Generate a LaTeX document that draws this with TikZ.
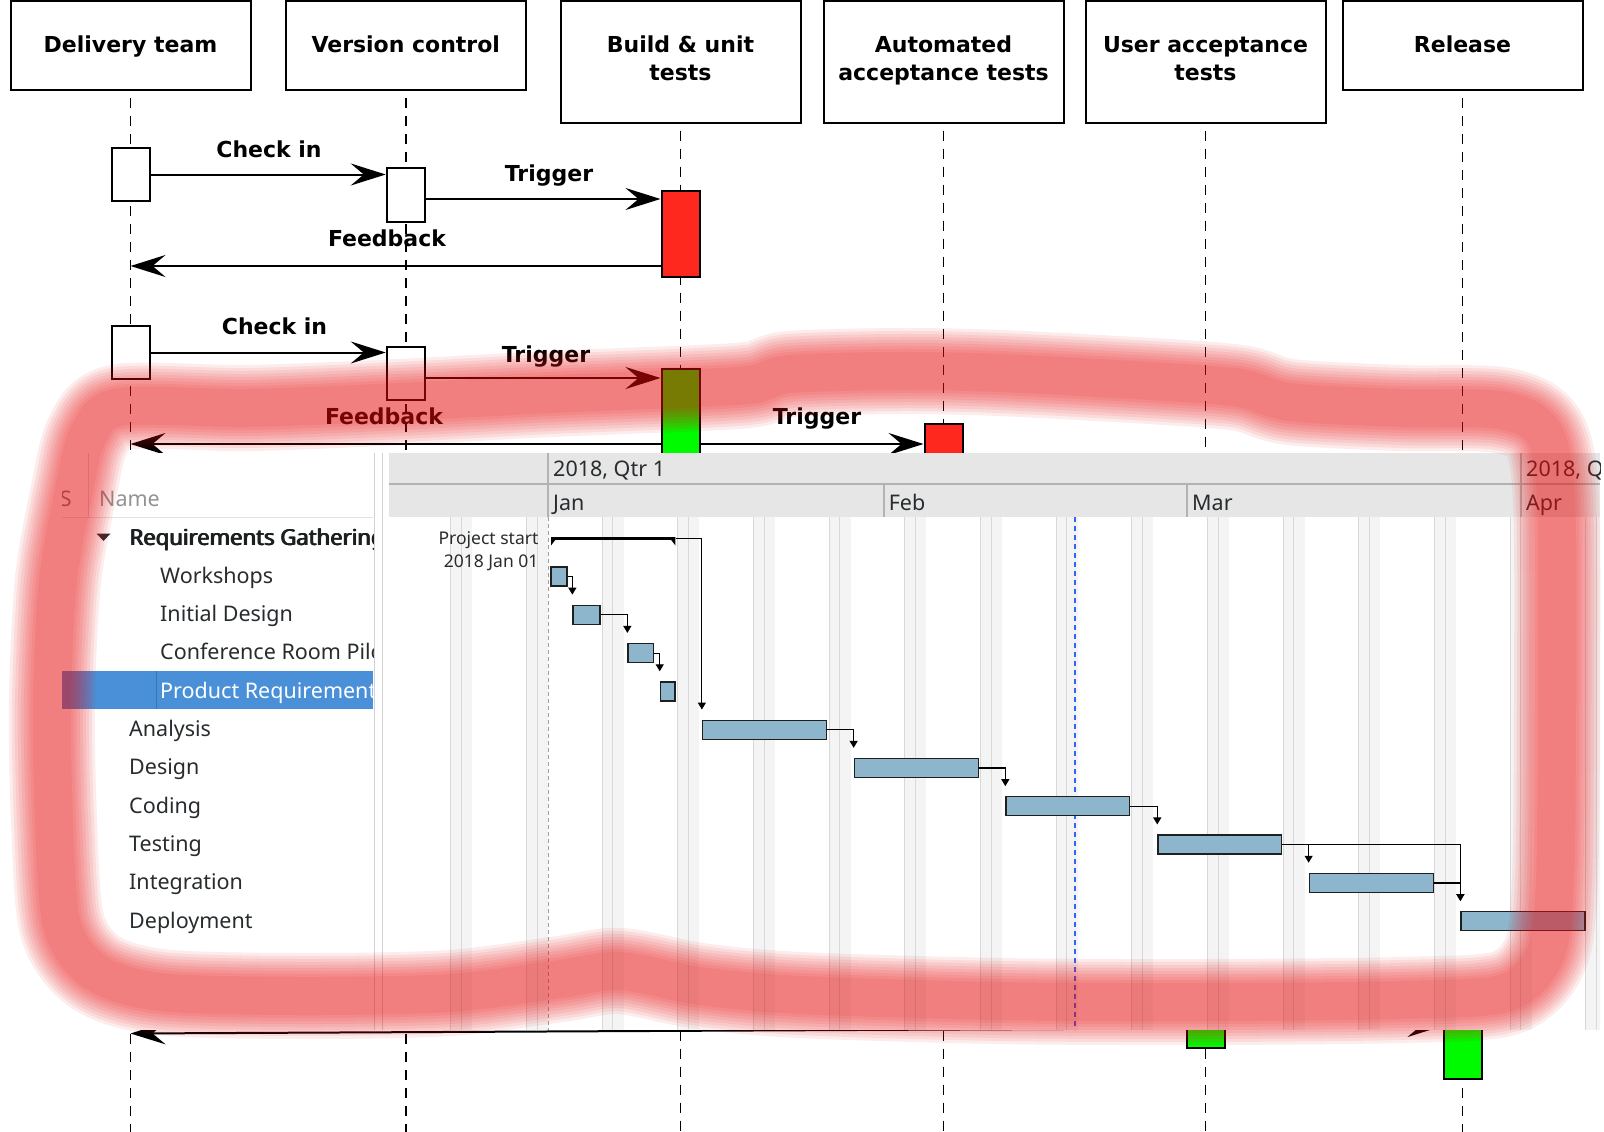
\documentclass[tikz,border=0pt]{standalone}
\usepackage{fontspec}
\newfontfamily\seqfont{DejaVu Sans}
\newfontfamily\gfont{Noto Sans}
\newcommand\heavytext[1]{\rlap{#1}\kern0.6pt\rlap{#1}\kern0.6pt#1}
\usetikzlibrary{arrows.meta,calc}
\definecolor{boxred}{RGB}{255,40,30}
\definecolor{boxgreen}{RGB}{0,250,0}
\definecolor{barfill}{RGB}{141,181,204}
\definecolor{hdrgrey}{RGB}{230,230,230}
\definecolor{hdrline}{RGB}{178,178,178}
\definecolor{wkfill}{RGB}{244,244,244}
\definecolor{wkline}{RGB}{216,216,216}
\definecolor{selblue}{RGB}{74,144,217}
\definecolor{gtext}{RGB}{40,44,46}
\definecolor{bandred}{RGB}{235,15,15}
\definecolor{todayblue}{RGB}{50,100,245}
\begin{document}
\begin{tikzpicture}[x=1pt,y=-1pt,
  hbox/.style={draw, line width=2pt, minimum width=240pt, inner sep=0pt},
  htext/.style={font=\seqfont\bfseries\fontsize{22}{26}\selectfont, anchor=base, inner sep=0pt},
  life/.style={line width=1.6pt, dash pattern=on 10pt off 8pt},
  act/.style={draw, line width=2pt, minimum width=38pt, inner sep=0pt, fill=white},
  msg/.style={line width=2pt, -{Stealth[length=35pt,width=22pt,inset=13pt]}},
  lbl/.style={font=\seqfont\bfseries\fontsize{22}{26}\selectfont, anchor=base, inner sep=0pt},
  gt/.style={font=\gfont\fontsize{21.5}{26}\selectfont, text=gtext, anchor=base west, inner sep=0pt},
  gtb/.style={font=\gfont\fontsize{22}{26}\selectfont, text=gtext!70!black, anchor=base west, inner sep=0pt},
  gsmall/.style={font=\gfont\fontsize{17.5}{20}\selectfont, text=gtext, anchor=base east, inner sep=0pt},
  bar/.style={draw=black!88, line width=1.3pt, fill=barfill, minimum height=19pt, inner sep=0pt},
  dep/.style={line width=1.2pt, -{Triangle[length=7pt,width=8pt]}},
  band/.style={bandred, line join=round, line cap=round}
]
\fill[white] (0,0) rectangle (1604,1132);
\useasboundingbox (0,0) rectangle (1604,1132);

% ---------- header boxes ----------
\node[hbox, minimum height=88.5pt] (dt) at (130.5,45.75) {};
\node[hbox, minimum height=88.5pt] (vc) at (405.75,45.75) {};
\node[hbox, minimum height=121pt] (bu) at (680.5,62) {};
\node[hbox, minimum height=121pt] (aa) at (943.5,62) {};
\node[hbox, minimum height=121pt] (ua) at (1205.5,62) {};
\node[hbox, minimum height=88.5pt] (re) at (1462.5,45.75) {};
\node[htext] (dtT) at (130.5,52.7) {Delivery team};
\node[htext] (vcT) at (405.75,52.7) {Version control};
\node[htext] (buT1) at (680.5,52.7) {Build \& unit};
\node[htext] (buT2) at (680.5,80.7) {tests};
\node[htext] (aaT1) at (943.5,52.7) {Automated};
\node[htext] (aaT2) at (943.5,80.7) {acceptance tests};
\node[htext] (uaT1) at (1205.5,52.7) {User acceptance};
\node[htext] (uaT2) at (1205.5,80.7) {tests};
\node[htext] (reT) at (1462.5,52.7) {Release};

% ---------- lifelines ----------
\coordinate (bot) at (0,1132);
\foreach \n in {dt,vc,bu,aa,ua,re}
  \draw[life] ([yshift=-7pt]\n.south) -- (\n.south |- bot);

% ---------- activations ----------
\node[act, minimum height=53pt] (d1) at (130.5,174.5) {};
\node[act, minimum height=54pt] (v1) at (405.75,195) {};
\node[act, minimum height=86pt, fill=boxred] (b1) at (680.5,234) {};
\node[act, minimum height=53pt] (d2) at (130.5,352.5) {};
\node[act, minimum height=53pt] (v2) at (405.75,373.5) {};
\node[act, minimum height=111pt, fill=boxgreen] (b2) at (680.5,424.5) {};
\node[act, minimum height=76pt, fill=boxred] (a1) at (943.5,462) {};
\node[act, minimum height=63pt, fill=boxgreen] (u1) at (1205.5,1016.5) {};
\node[act, minimum height=69pt, fill=boxgreen] (r1) at (1462.5,1044.5) {};
\coordinate (dlow) at (130.5,1033.5);

% ---------- messages ----------
\draw[msg] (d1.east) -- (d1.east -| v1.west);
\draw[msg] ([yshift=-4pt]v1.east) -- ([yshift=-4pt]v1.east -| b1.west);
\draw[msg] ([yshift=-32pt]b1.west) -- ([yshift=-32pt]b1.west -| d1.south);
\draw[msg] (d2.east) -- (d2.east -| v2.west);
\draw[msg] ([yshift=-4.5pt]v2.east) -- ([yshift=-4.5pt]v2.east -| b2.west);
\draw[msg] ([yshift=-19.5pt]b2.west) -- ([yshift=-19.5pt]b2.west -| d2.south);
\draw[msg] ([yshift=-19.5pt]b2.east) -- ([yshift=-19.5pt]b2.east -| a1.west);
\draw[msg] ([yshift=-11.9pt]u1.west) -- (dlow);
\draw[msg] ([yshift=-9.5pt]u1.east) -- ([yshift=-9.5pt]u1.east -| r1.west);

\node[lbl] (l1) at (269,157) {Check in};
\node[lbl] (l2) at (549,181) {Trigger};
\node[lbl] (l3) at (387,246.5) {Feedback};
\node[lbl] (l4) at (274.5,334) {Check in};
\node[lbl] (l5) at (546,362) {Trigger};
\node[lbl] (l6) at (384,424) {Feedback};
\node[lbl] (l7) at (817,424) {Trigger};

% ---------- gantt panel ----------
\fill[white] (62,453) rectangle (1604,1030);
% tree
\fill[selblue] (62,671) rectangle (373,709);
\draw[selblue!80!black, line width=0.6pt] (156,671) -- (156,709);
\draw[gray!22, line width=1pt] (62,517) -- (373,517);
\draw[gray!30, line width=1pt] (88,453) -- (88,517);
\begin{scope}
\clip (62,453) rectangle (373,1030);
\node[gt, anchor=base east, text=gray] (wbs) at (72,506.7) {WBS};
\node[gt, text=gray!85] (nameH) at (99,506.7) {Name};
\node[gtb] (t0) at (129,545) {\heavytext{Requirements Gathering}};
\node[gt] (t1) at (160,583.3) {Workshops};
\node[gt] (t2) at (160,621.6) {Initial Design};
\node[gt] (t3) at (160,659.9) {Conference Room Pilot};
\node[gt, text=white] (t4) at (160,698.2) {Product Requirements};
\node[gt] (t5) at (129,736.5) {Analysis};
\node[gt] (t6) at (129,774.8) {Design};
\node[gt] (t7) at (129,813.1) {Coding};
\node[gt] (t8) at (129,851.4) {Testing};
\node[gt] (t9) at (129,889.7) {Integration};
\node[gt] (t10) at (129,928) {Deployment};
\end{scope}
\fill[gtext] (96.5,533.5) -- (110.5,533.5) -- (103.5,541) -- cycle;
\draw[gray!35, line width=1pt] (374,453) -- (374,1030);
\draw[gray!35, line width=1pt] (382,453) -- (382,1030);

% chart header
\fill[hdrgrey] (389,453) rectangle (1600,517);
\draw[hdrline, line width=1.2pt] (389,484) -- (1600,484);
\draw[hdrline, line width=1.2pt] (548,453) -- (548,517);
\draw[hdrline, line width=1.2pt] (1521,453) -- (1521,517);
\draw[hdrline, line width=1.2pt] (884,484) -- (884,517);
\draw[hdrline, line width=1.2pt] (1187,484) -- (1187,517);
\begin{scope}
\clip (389,453) rectangle (1600,517);
\node[gt] (q1) at (553,476.7) {2018, Qtr 1};
\node[gt] (q2) at (1526,476.7) {2018, Qtr 2};
\node[gt] (mJan) at (553,510) {Jan};
\node[gt] (mFeb) at (888.6,510) {Feb};
\node[gt] (mMar) at (1192,510) {Mar};
\node[gt] (mApr) at (1526,510) {Apr};
\end{scope}

% chart body
\begin{scope}
\clip (389,517) rectangle (1600,1030);
\foreach \k in {-2,...,13} {
  \pgfmathsetmacro\xs{548+(5+7*\k)*10.81}
  \fill[wkfill] (\xs,517) rectangle ++(21.62,513);
  \draw[wkline, line width=1pt] (\xs,517) -- (\xs,1030);
  \draw[wkline, line width=1pt] (\xs+10.81,517) -- (\xs+10.81,1030);
}
\draw[gray!75, line width=1pt, dash pattern=on 4pt off 3pt] (548,517) -- (548,1030);
\draw[todayblue, line width=1.2pt, dash pattern=on 5pt off 4pt] (1075,517) -- (1075,1030);
\end{scope}
\node[gsmall] (ps1) at (538.6,544) {Project start};
\node[gsmall] (ps2) at (538.6,567) {2018 Jan 01};

% bars
\node[fill=black, inner sep=0pt, minimum width=124.4pt, minimum height=3.4pt] (sum) at (613.2,538.4) {};
\fill (551,537) -- (557.5,537) -- (551,545.5) -- cycle;
\fill (675.4,537) -- (668.9,537) -- (675.4,545.5) -- cycle;
\node[bar, minimum width=16pt] (bW) at (559,576.5) {};
\node[bar, minimum width=27pt] (bID) at (586.5,614.8) {};
\node[bar, minimum width=25.2pt] (bCR) at (640.6,653.1) {};
\node[bar, minimum width=14.6pt] (bPR) at (667.7,691.4) {};
\node[bar, minimum width=123.9pt] (bAN) at (764.45,729.7) {};
\node[bar, minimum width=123.9pt] (bDE) at (916.25,768) {};
\node[bar, minimum width=123.4pt] (bCO) at (1067.7,806.3) {};
\node[bar, minimum width=123.6pt] (bTE) at (1219.7,844.6) {};
\node[bar, minimum width=124pt] (bIN) at (1371.3,882.9) {};
\node[bar, minimum width=124pt] (bDP) at (1523,921.2) {};

\draw[dep] (bW.east) -| ([yshift=10pt]bID.north west);
\draw[dep] (bID.east) -| ([yshift=10pt]bCR.north west);
\draw[dep] (bCR.east) -| ([yshift=10pt]bPR.north west);
\draw[dep] (sum.east) -| ([yshift=10pt]bAN.north west);
\draw[dep] (bAN.east) -| ([yshift=10pt]bDE.north west);
\draw[dep] (bDE.east) -| ([yshift=10pt]bCO.north west);
\draw[dep] (bCO.east) -| ([yshift=10pt]bTE.north west);
\draw[dep] (bTE.east) -| ([yshift=10pt]bIN.north west);
\draw[dep] (bTE.east) -| ([yshift=10pt]bDP.north west);
\draw[dep] (bIN.east) -| ([yshift=10pt]bDP.north west);

% ---------- blurred red outline ----------
\foreach \w in {86,80,74,68,62,56,50,44,38} {
  \draw[band, line width=\w pt, opacity=0.077]
    plot[smooth cycle] coordinates {
      (120,407) (250,408) (400,402) (550,394) (700,388) (755,384) (790,374)
      (900,371) (1000,373) (1150,381) (1240,388) (1290,402) (1400,408)
      (1500,410) (1543,432) (1556,500) (1557,700) (1555,880) (1545,955)
      (1505,993) (1400,1000) (1200,1002) (1000,1001) (800,995) (700,986)
      (620,971) (560,979) (450,993) (300,996) (160,992) (95,972) (62,925)
      (54,820) (52,700) (58,580) (74,490) (88,435)};
}
\end{tikzpicture}
\end{document}
